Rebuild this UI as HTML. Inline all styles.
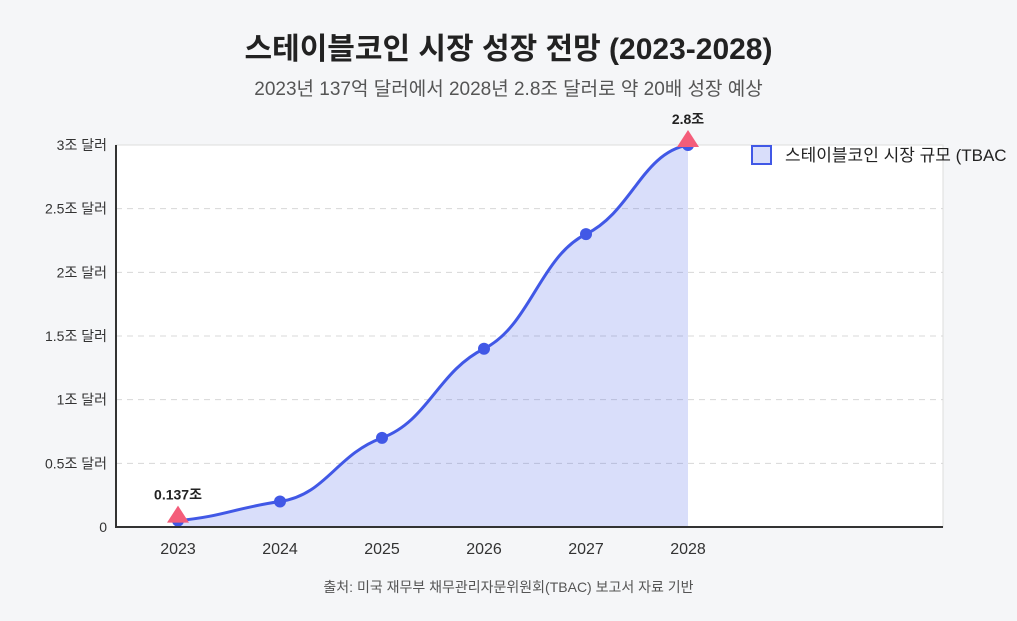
<!DOCTYPE html>
<html><head><meta charset="utf-8">
<style>
body{margin:0;width:1017px;height:621px;background:#f5f6f8;font-family:"Liberation Sans","Noto Sans CJK KR",sans-serif;overflow:hidden;position:relative}
#title{position:absolute;top:24px;left:0;width:1017px;text-align:center;font-size:30px;font-weight:bold;color:#222}
#sub{position:absolute;top:74px;left:0;width:1017px;text-align:center;font-size:19px;color:#555}
#src{position:absolute;top:577px;left:0;width:1017px;text-align:center;font-size:14px;color:#555}
svg{position:absolute;left:0;top:0}
</style></head><body>
<div id="title">스테이블코인 시장 성장 전망 (2023-2028)</div>
<div id="sub">2023년 137억 달러에서 2028년 2.8조 달러로 약 20배 성장 예상</div>
<div id="src">출처: 미국 재무부 채무관리자문위원회(TBAC) 보고서 자료 기반</div>
<svg id="chart" width="1017" height="621"></svg>
<script>
const categories=["2023","2024","2025","2026","2027","2028"];
const values=[0.05,0.2,0.7,1.4,2.3,3.0];
const yTicks=[0,0.5,1,1.5,2,2.5,3];
const yTickLabels=["0","0.5조 달러","1조 달러","1.5조 달러","2조 달러","2.5조 달러","3조 달러"];
const annotations=[{i:0,label:"0.137조"},{i:5,label:"2.8조"}];
const NS="http://www.w3.org/2000/svg";
const svg=document.getElementById('chart');
const L=116,R=943,T=145,B=527;
const x=i=>178+i*102;
const y=v=>B-(v/3)*(B-T);
function mk(t,a,p){const e=document.createElementNS(NS,t);for(const k in a)e.setAttribute(k,a[k]);(p||svg).appendChild(e);return e;}
const bg=mk('rect',{x:L,y:T,width:R-L,height:B-T,fill:'#fff',stroke:'#ddd'});


yTicks.forEach((v,k)=>{
 if(v>0&&v<3){const g=mk('line',{x1:L,x2:R,y1:y(v),y2:y(v),stroke:'#d8d8d8','stroke-dasharray':'6,5'});
 
 }
 const t=mk('text',{x:107,y:y(v)+5,'text-anchor':'end','font-size':14,fill:'#333'});t.textContent=yTickLabels[k];
 
 
});
categories.forEach((c,i)=>{const t=mk('text',{x:x(i),y:554,'text-anchor':'middle','font-size':16,fill:'#333'});t.textContent=c;
 
 });
const pts=values.map((v,i)=>[x(i),y(v)]);
const n=pts.length,d=[],m=[];
for(let i=0;i<n-1;i++)d.push((pts[i+1][1]-pts[i][1])/(pts[i+1][0]-pts[i][0]));
m[0]=d[0]*0.5;m[n-1]=d[n-2]*0.2;
for(let i=1;i<n-1;i++)m[i]=d[i-1]*d[i]<=0?0:0.5*2/(1/d[i-1]+1/d[i]);
let p=`M${pts[0][0]},${pts[0][1]}`;
for(let i=0;i<n-1;i++){const h=(pts[i+1][0]-pts[i][0])*0.45;
 p+=` C${pts[i][0]+h},${pts[i][1]+m[i]*h} ${pts[i+1][0]-h},${pts[i+1][1]-m[i+1]*h} ${pts[i+1][0]},${pts[i+1][1]}`;}
const area=mk('path',{d:p+` L${pts[n-1][0]},${B} L${pts[0][0]},${B} Z`,fill:'rgba(65,88,230,0.2)'});


const line=mk('path',{d:p,fill:'none',stroke:'#4158e6','stroke-width':3});


pts.forEach((q,i)=>{const c=mk('circle',{cx:q[0],cy:q[1],r:6,fill:'#4158e6'});
 
 });
annotations.forEach(a=>{const q=pts[a.i];
 const tri=mk('path',{d:`M${q[0]},${q[1]-15} L${q[0]+11},${q[1]+2} L${q[0]-11},${q[1]+2} Z`,fill:'#f45d7a'});
 
 
 const t=mk('text',{x:q[0],y:q[1]-21,'text-anchor':'middle','font-size':14,'font-weight':'bold',fill:'#222'});t.textContent=a.label;
 
 });
const ax=mk('path',{d:`M${L},${T} L${L},${B} L${R},${B}`,fill:'none',stroke:'#333','stroke-width':2});


const lb=mk('rect',{x:752,y:146,width:19,height:18,fill:'rgba(65,88,230,0.2)',stroke:'#4158e6','stroke-width':2});


const lt=mk('text',{x:785,y:161,'font-size':17,fill:'#222'});lt.textContent="스테이블코인 시장 규모 (TBAC";


</script>
</body></html>
